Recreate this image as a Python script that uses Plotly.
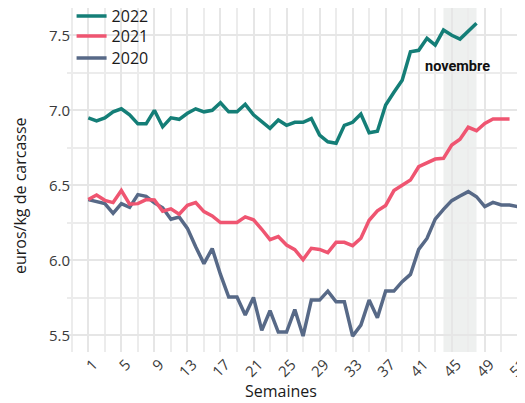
import plotly.graph_objects as go

weeks_2022 = list(range(1, 49))
prix_2022 = [6.95, 6.93, 6.95, 6.99, 7.01, 6.97, 6.91, 6.91, 7.00, 6.89,
             6.95, 6.94, 6.98, 7.01, 6.99, 7.00, 7.05, 6.99, 6.99, 7.04,
             6.97, 6.925, 6.88, 6.935, 6.90, 6.92, 6.92, 6.945, 6.835, 6.79,
             6.78, 6.90, 6.92, 6.975, 6.85, 6.86, 7.035, 7.12, 7.20, 7.39,
             7.40, 7.48, 7.435, 7.535, 7.50, 7.475, 7.525, 7.58]

weeks_2021 = list(range(1, 53))
prix_2021 = [6.405, 6.435, 6.40, 6.385, 6.465, 6.375, 6.378, 6.405, 6.403, 6.328,
             6.343, 6.307, 6.367, 6.385, 6.325, 6.296, 6.252, 6.252, 6.252, 6.29,
             6.27, 6.207, 6.138, 6.158, 6.102, 6.071, 6.005, 6.08, 6.073, 6.052,
             6.12, 6.12, 6.098, 6.147, 6.267, 6.33, 6.366, 6.465, 6.50, 6.535,
             6.624, 6.647, 6.675, 6.68, 6.769, 6.807, 6.887, 6.864, 6.913, 6.942,
             6.942, 6.942]

weeks_2020 = list(range(1, 54))
prix_2020 = [6.405, 6.39, 6.378, 6.313, 6.378, 6.353, 6.438, 6.427, 6.383, 6.35,
             6.274, 6.289, 6.213, 6.09, 5.978, 6.078, 5.906, 5.755, 5.755, 5.635,
             5.753, 5.533, 5.664, 5.522, 5.522, 5.672, 5.495, 5.735, 5.735, 5.795,
             5.724, 5.724, 5.495, 5.568, 5.735, 5.618, 5.795, 5.795, 5.858, 5.906,
             6.073, 6.146, 6.275, 6.34, 6.398, 6.429, 6.458, 6.424, 6.358, 6.386,
             6.369, 6.369, 6.358]

x_ticks = list(range(1, 54, 4))
y_ticks = [5.5, 6.0, 6.5, 7.0, 7.5]
y_ticktext = ["5.5", "6.0", "6.5", "7.0", "7.5"]
novembre_debut, novembre_fin = 44, 48
novembre_label = "novembre"

colors = {"2022": "#147e77", "2021": "#ef5571", "2020": "#576987"}
legend_slots = {"2022": ("legend", 0.9767), "2021": ("legend2", 0.9186), "2020": ("legend3", 0.8547)}

fig = go.Figure()
for name, xs, ys in [("2020", weeks_2020, prix_2020),
                     ("2021", weeks_2021, prix_2021),
                     ("2022", weeks_2022, prix_2022)]:
    fig.add_trace(go.Scatter(x=xs, y=ys, mode="lines", name=name, showlegend=True,
                             legend=legend_slots[name][0],
                             line=dict(color=colors[name], width=3.5)))

fig.add_shape(type="rect", xref="x", yref="paper",
              x0=novembre_debut, x1=novembre_fin, y0=0, y1=1,
              fillcolor="rgba(222,226,224,0.5)", line_width=0, layer="between")

fig.add_annotation(x=(novembre_debut + novembre_fin) / 2 - 0.25, y=7.29, xref="x", yref="y",
                   text="<b>" + novembre_label + "</b>", showarrow=False,
                   font=dict(family="Liberation Sans Narrow, Roboto, sans-serif",
                             size=14.5, color="#111111"))

fig.add_annotation(x=0.467, y=-0.112, xref="paper", yref="paper", text="Semaines",
                   showarrow=False, font=dict(size=16, color="#1a1a1a"),
                   xanchor="center", yanchor="middle")
fig.add_annotation(x=-0.1026, y=0.4535, xref="paper", yref="paper",
                   text="euros/kg de carcasse", textangle=-90,
                   showarrow=False, font=dict(size=16, color="#1a1a1a"),
                   xanchor="center", yanchor="middle")

legend_common = dict(x=0.01, xanchor="left", yanchor="middle", borderwidth=0, visible=True,
                     bgcolor="rgba(255,255,255,0)", font=dict(size=16, color="#1a1a1a"))

fig.update_layout(
    width=517, height=395,
    showlegend=True,
    margin=dict(l=59, r=0, t=0, b=51, autoexpand=False),
    plot_bgcolor="white", paper_bgcolor="white",
    font=dict(family="Open Sans, Noto Sans, sans-serif", size=15, color="#3a3a3a"),
    legend=dict(y=legend_slots["2022"][1], **legend_common),
    legend2=dict(y=legend_slots["2021"][1], **legend_common),
    legend3=dict(y=legend_slots["2020"][1], **legend_common),
    xaxis=dict(range=[-1.58, 53.87], tickmode="array", tickvals=x_ticks,
               ticktext=[str(v) for v in x_ticks], tickangle=-45, ticklabelshift=5,
               ticklabeloverflow="allow",
               showgrid=True, gridcolor="#e6e6e6", gridwidth=2.4,
               zeroline=False, showline=False, automargin=False,
               minor=dict(tick0=-1, dtick=4, showgrid=True,
                          gridcolor="#ececec", gridwidth=1.5)),
    yaxis=dict(range=[5.389, 7.682], tickmode="array", tickvals=y_ticks,
               ticktext=y_ticktext, ticklabelstandoff=-4,
               showgrid=True, gridcolor="#e6e6e6", gridwidth=2.4,
               zeroline=False, showline=False, automargin=False,
               minor=dict(tick0=5.25, dtick=0.5, showgrid=True,
                          gridcolor="#ececec", gridwidth=1.5)),
)

fig.write_html("out.html")
